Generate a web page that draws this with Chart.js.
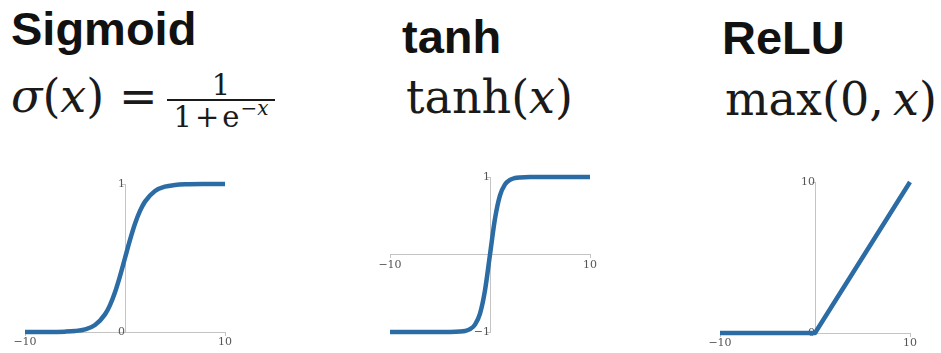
<!DOCTYPE html>
<html>
<head>
<meta charset="utf-8">
<script src="https://cdn.jsdelivr.net/npm/chart.js@4.4.1/dist/chart.umd.min.js"></script>
<style>
  html, body { margin: 0; padding: 0; background: #fff; }
  #page { position: relative; width: 941px; height: 353px; overflow: hidden; background: #fff; }
  .title { position: absolute; font-family: 'Liberation Sans', Arial, sans-serif; font-weight: bold;
           font-size: 47px; line-height: 47px; color: #111; white-space: nowrap; }
  .math { position: absolute; font-family: 'DejaVu Serif', serif; font-size: 46px; line-height: 46px;
          color: #1a1a1a; white-space: nowrap; }
  .math i { font-style: italic; }
  .frac { position: absolute; font-family: 'DejaVu Serif', serif; color: #1a1a1a; white-space: nowrap;
          width: 108px; text-align: center; }
  .frac .num, .frac .den { font-size: 29px; line-height: 28px; }
  .frac .bar { height: 2px; background: #1a1a1a; }
  .frac .den { margin-top: 2px; }
  .frac .op { margin: 0 3px; }
  .frac .sup { font-size: 20px; position: relative; top: -12px; margin-left: 1px; }
  .plot { position: absolute; }
</style>
</head>
<body>
<div id="page">
  <div class="title" style="left:11px; top:5px;">Sigmoid</div>
  <div class="title" style="left:402px; top:13px;">tanh</div>
  <div class="title" style="left:722px; top:14px;">ReLU</div>

  <div class="math" style="left:11px; top:73px;"><i>σ</i>(<i>x</i>) =</div>
  <div class="frac" style="left:167px; top:71px;">
    <div class="num">1</div>
    <div class="bar"></div>
    <div class="den">1<span class="op">+</span>e<span class="sup">−<i>x</i></span></div>
  </div>
  <div class="math" style="left:406px; top:74px;">tanh(<i>x</i>)</div>
  <div class="math" style="left:725px; top:76px;">max(0,&#8201;<i>x</i>)</div>

  <canvas id="cSigmoid" class="plot" width="250" height="193" style="left:0px; top:160px;"></canvas>
  <canvas id="cTanh" class="plot" width="260" height="203" style="left:360px; top:150px;"></canvas>
  <canvas id="cRelu" class="plot" width="251" height="203" style="left:690px; top:150px;"></canvas>
</div>

<script>
// Sigmoid curve samples
const sigmoidX = [-10, -8, -6, -5, -4, -3, -2, -1.5, -1, -0.5, 0, 0.5, 1, 1.5, 2, 3, 4, 5, 6, 8, 10];
const sigmoidY = [0.0000, 0.0003, 0.0025, 0.0067, 0.018, 0.047, 0.119, 0.182, 0.269, 0.378, 0.5,
                  0.622, 0.731, 0.818, 0.881, 0.953, 0.982, 0.993, 0.9975, 0.9997, 1.0];

// tanh curve samples
const tanhX = [-10, -4, -3, -2.5, -2, -1.5, -1, -0.5, 0, 0.5, 1, 1.5, 2, 2.5, 3, 4, 10];
const tanhY = [-1.0, -0.999, -0.995, -0.987, -0.964, -0.905, -0.762, -0.462, 0,
               0.462, 0.762, 0.905, 0.964, 0.987, 0.995, 0.999, 1.0];

// ReLU corner points
const reluX = [-10, 0, 10];
const reluY = [0, 0, 10];

// Axis ranges and tick labels
const xRange = [-10, 10];
const xTicks = [-10, 10];
const sigmoidYRange = [0, 1];
const sigmoidYTicks = [0, 1];
const tanhYRange = [-1, 1];
const tanhYTicks = [-1, 1];
const reluYRange = [0, 10];
const reluYTicks = [0, 10];

const LINE_COLOR = '#2b6ca4';
const AXIS_COLOR = '#c4c4c4';
const TICK_FONT = { family: "'DejaVu Serif', serif", size: 11 };
const TICK_COLOR = '#555';

function fmt(v) { return v < 0 ? '\u2212' + Math.abs(v) : String(v); }

function axisGrid() {
  return { display: true, drawOnChartArea: false, drawTicks: true, tickLength: 3,
           color: AXIS_COLOR, lineWidth: 1 };
}

function makePlot(id, xs, ys, yRange, yTicks, padding, smooth) {
  const pts = xs.map((x, i) => ({ x: x, y: ys[i] }));
  new Chart(document.getElementById(id), {
    type: 'line',
    data: {
      datasets: [{
        data: pts,
        borderColor: LINE_COLOR,
        borderWidth: 4.5,
        pointRadius: 0,
        fill: false,
        clip: false,
        cubicInterpolationMode: smooth ? 'monotone' : 'default',
        tension: 0,
        borderCapStyle: 'butt',
        borderJoinStyle: 'round'
      }]
    },
    options: {
      responsive: false,
      devicePixelRatio: 1,
      animation: false,
      events: [],
      layout: { padding: padding },
      plugins: { legend: { display: false }, tooltip: { enabled: false } },
      scales: {
        x: {
          type: 'linear',
          min: xRange[0], max: xRange[1],
          position: { y: 0 },
          grid: axisGrid(),
          border: { display: true, color: AXIS_COLOR, width: 1 },
          afterBuildTicks: s => { s.ticks = xTicks.map(v => ({ value: v })); },
          ticks: { font: TICK_FONT, color: TICK_COLOR, padding: 1, maxRotation: 0,
                   autoSkip: false, callback: v => fmt(v) }
        },
        y: {
          type: 'linear',
          min: yRange[0], max: yRange[1],
          position: { x: 0 },
          grid: axisGrid(),
          border: { display: true, color: AXIS_COLOR, width: 1 },
          afterBuildTicks: s => { s.ticks = yTicks.map(v => ({ value: v })); },
          ticks: { font: TICK_FONT, color: TICK_COLOR, padding: 2,
                   autoSkip: false, callback: v => fmt(v) }
        }
      }
    }
  });
}

makePlot('cSigmoid', sigmoidX, sigmoidY, sigmoidYRange, sigmoidYTicks,
         { left: 25, right: 25, top: 24, bottom: 21 }, true);
makePlot('cTanh', tanhX, tanhY, tanhYRange, tanhYTicks,
         { left: 30, right: 30, top: 27, bottom: 21 }, true);
makePlot('cRelu', reluX, reluY, reluYRange, reluYTicks,
         { left: 30, right: 31, top: 32, bottom: 20 }, false);
</script>
</body>
</html>
